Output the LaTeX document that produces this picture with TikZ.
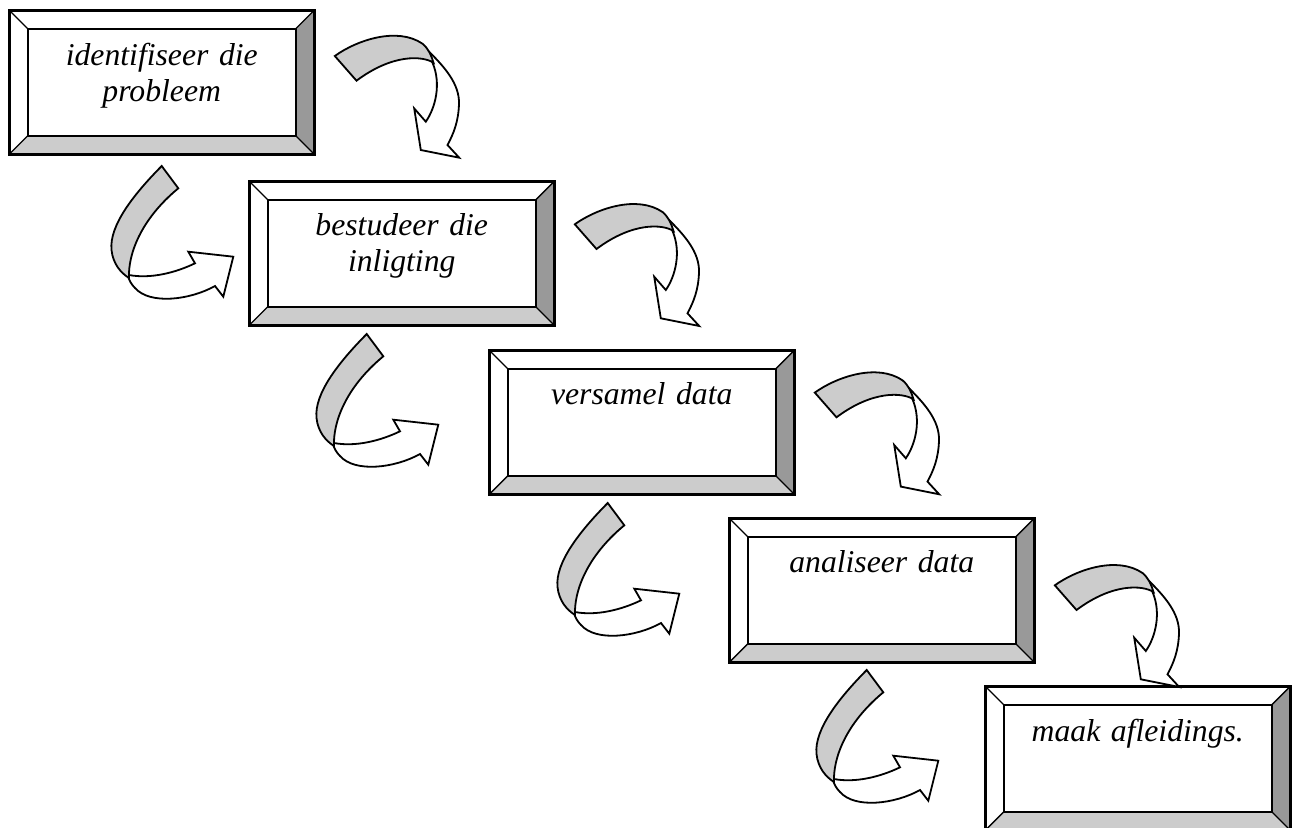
\documentclass[tikz,border=0pt]{standalone}
\usepackage{fontspec}
\setmainfont{Liberation Serif}
\usetikzlibrary{calc}

\definecolor{bevelside}{HTML}{999999}
\definecolor{bevelbase}{HTML}{CCCCCC}
\definecolor{ribbon}{HTML}{CCCCCC}

\tikzset{
  bevelbox/.style={
    draw, line width=2.5pt, rectangle, anchor=north west, inner sep=0pt,
    minimum width=305pt, minimum height=144pt,
    path picture={
      \def\bw{18.5pt}
      \fill[bevelside] (path picture bounding box.north east)
        -- (path picture bounding box.south east)
        -- ([xshift=-\bw,yshift=\bw]path picture bounding box.south east)
        -- ([xshift=-\bw,yshift=-\bw]path picture bounding box.north east) -- cycle;
      \fill[bevelbase] (path picture bounding box.south west)
        -- (path picture bounding box.south east)
        -- ([xshift=-\bw,yshift=\bw]path picture bounding box.south east)
        -- ([xshift=\bw,yshift=\bw]path picture bounding box.south west) -- cycle;
      \draw[line width=1.4pt]
        (path picture bounding box.north west) -- ([xshift=\bw,yshift=-\bw]path picture bounding box.north west)
        (path picture bounding box.north east) -- ([xshift=-\bw,yshift=-\bw]path picture bounding box.north east)
        (path picture bounding box.south west) -- ([xshift=\bw,yshift=\bw]path picture bounding box.south west)
        (path picture bounding box.south east) -- ([xshift=-\bw,yshift=\bw]path picture bounding box.south east);
      \draw[line width=2.2pt]
        ([xshift=\bw,yshift=-\bw]path picture bounding box.north west)
        rectangle ([xshift=-\bw,yshift=\bw]path picture bounding box.south east);
    }
  },
  boxtext/.style={font=\fontsize{31.7}{36}\selectfont\itshape, text width=280pt,
    align=center, anchor=base, inner sep=0pt},
  ribbonline/.style={line width=1.8pt, line join=miter, draw=black},
}

% ribbon arrow that arcs over to the right and turns down
\newcommand\DownCurl[1]{%
  \begin{scope}[shift={#1}]
    \filldraw[ribbonline, fill=white]
      (104,37.5) .. controls (122,55) and (137,72) .. (136.5,92)
      .. controls (136,110) and (131,122) .. (125,133.3)
      -- (136.7,146) -- (98.3,138.3) -- (91.7,96.7) -- (103.3,110)
      .. controls (113,96) and (119,72) .. (110,51) -- cycle;
    \filldraw[ribbonline, fill=ribbon]
      (12.3,44.3) .. controls (35,28) and (75,15) .. (100,32)
      .. controls (106,37) and (109,44) .. (111,51)
      .. controls (100,44) and (70,42) .. (34,69) -- cycle;
  \end{scope}}

% ribbon arrow that sweeps down on the left and turns right
\newcommand\RightCurl[1]{%
  \begin{scope}[shift={#1}]
    \filldraw[ribbonline, fill=white]
      (34,115) .. controls (55,119) and (80,113) .. (100,103.3)
      -- (93.3,91.7) -- (138.3,96.7) -- (128.3,136.7) -- (120,126)
      .. controls (95,140) and (55,145) .. (40,128)
      .. controls (36,124) and (34,120) .. (33,116) -- cycle;
    \filldraw[ribbonline, fill=ribbon]
      (66.7,6) .. controls (40,33) and (14,65) .. (16.5,90)
      .. controls (18,104) and (26,113) .. (34,118)
      .. controls (33,95) and (45,60) .. (83.3,28.3) -- cycle;
  \end{scope}}

\begin{document}
\begin{tikzpicture}[x=1pt, y=-1pt]
  \useasboundingbox (0,0) rectangle (1297,827);

  % the five steps
  \node[bevelbox] (b1) at (8,9) {};
  \node[bevelbox] (b2) at (248,180) {};
  \node[bevelbox] (b3) at (488,349) {};
  \node[bevelbox] (b4) at (728,517) {};
  \node[bevelbox] (b5) at (984,685) {};

  \node[boxtext] (t1) at ($(b1.north)+(0,56)$) {identifiseer die\\probleem};
  \node[boxtext] (t2) at ($(b2.north)+(0,55)$) {bestudeer die\\inligting};
  \node[boxtext] (t3) at ($(b3.north)+(0,55)$) {versamel data};
  \node[boxtext] (t4) at ($(b4.north)+(0,55)$) {analiseer data};
  \node[boxtext] (t5) at ($(b5.north)+(0,56)$) {maak afleidings.};

  % ribbons leaving each box on the right
  \DownCurl{($(b1.north east)+(7,2.7)$)}
  \DownCurl{($(b2.north east)+(7,0)$)}
  \DownCurl{($(b3.north east)+(7,-0.7)$)}
  \DownCurl{($(b4.north east)+(7,24)$)}

  % ribbons entering each box from the left
  \RightCurl{($(b2.north west)+(-153,-20)$)}
  \RightCurl{($(b3.north west)+(-188,-21)$)}
  \RightCurl{($(b4.north west)+(-187,-20)$)}
  \RightCurl{($(b5.north west)+(-184,-21)$)}
\end{tikzpicture}
\end{document}
